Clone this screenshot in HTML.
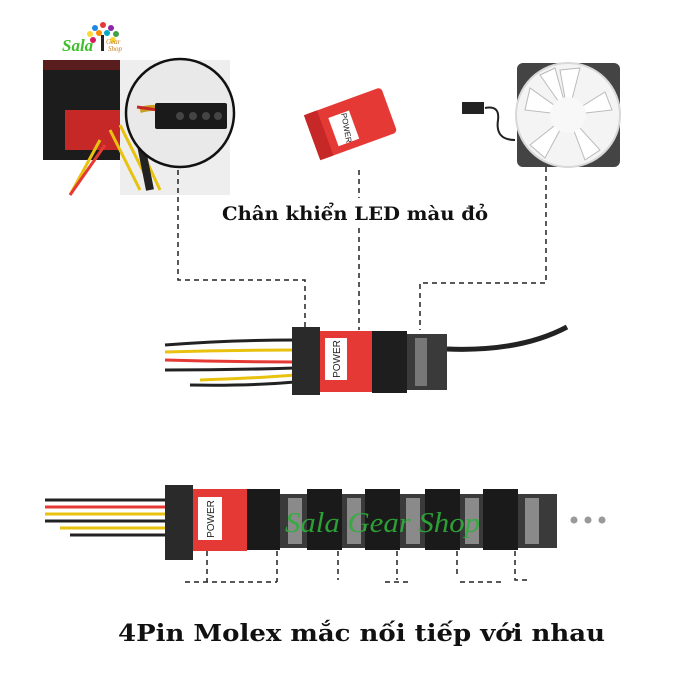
<!DOCTYPE html>
<html><head><meta charset="utf-8"><style>
html,body{margin:0;padding:0;background:#fff;}
svg{display:block;}
</style></head><body>
<svg width="689" height="689" viewBox="0 0 689 689" xmlns="http://www.w3.org/2000/svg">
<rect width="689" height="689" fill="#fff"/>
<!-- logo -->
<g>
<circle cx="103" cy="25" r="3" fill="#e53935"/><circle cx="95" cy="28" r="3" fill="#1e88e5"/><circle cx="111" cy="28" r="3" fill="#8e24aa"/>
<circle cx="90" cy="34" r="3" fill="#fdd835"/><circle cx="116" cy="34" r="3" fill="#43a047"/><circle cx="99" cy="33" r="3" fill="#fb8c00"/><circle cx="107" cy="33" r="3" fill="#00acc1"/>
<circle cx="93" cy="40" r="3" fill="#d81b60"/><circle cx="113" cy="40" r="3" fill="#fdd835"/>
<rect x="101" y="35" width="3" height="16" fill="#222"/>
<text x="62" y="51" font-family="Liberation Serif,serif" font-style="italic" font-weight="bold" font-size="17" fill="#3cbf2a">Sala</text>
<text x="106" y="44" font-family="Liberation Serif,serif" font-style="italic" font-size="7" fill="#c57b1a">Gear</text>
<text x="108" y="51" font-family="Liberation Serif,serif" font-style="italic" font-size="7" fill="#c57b1a">Shop</text>
</g>
<!-- PSU -->
<rect x="43" y="60" width="105" height="100" fill="#1c1c1c"/>
<rect x="43" y="60" width="105" height="10" fill="#5a1d1d"/>
<rect x="65" y="110" width="55" height="40" fill="#c62828"/>
<rect x="120" y="60" width="110" height="135" fill="#eee"/>
<path d="M110 130 L140 190 M120 125 L150 185 M130 125 L160 190 M100 140 L70 195" stroke="#e8c20f" stroke-width="3"/>
<path d="M105 145 L70 195" stroke="#e53935" stroke-width="3"/>
<path d="M140 140 L150 190" stroke="#222" stroke-width="8"/>
<circle cx="180" cy="113" r="54" fill="#e9e9e9" stroke="#111" stroke-width="2.5"/>
<path d="M140 110 Q160 105 160 112" stroke="#c8a020" stroke-width="6" fill="none"/>
<path d="M137 107 L158 110" stroke="#c62828" stroke-width="3"/>
<rect x="155" y="103" width="72" height="26" rx="2" fill="#1a1a1a"/>
<circle cx="180" cy="116" r="4" fill="#444"/><circle cx="193" cy="116" r="4" fill="#444"/><circle cx="206" cy="116" r="4" fill="#444"/><circle cx="218" cy="116" r="4" fill="#444"/>
<!-- red connector -->
<g transform="translate(350,125) rotate(-20)">
<rect x="-40" y="-25" width="82" height="48" rx="4" fill="#e53935"/>
<rect x="-40" y="-25" width="14" height="48" fill="#c62828"/>
<rect x="-18" y="-14" width="22" height="30" fill="#fff"/>
<text transform="translate(-7 1) rotate(100)" font-family="Liberation Sans,sans-serif" font-size="8" fill="#222" text-anchor="middle">POWER</text>
</g>
<!-- fan -->
<path d="M515 140 Q495 140 498 120 Q500 105 485 108" stroke="#222" stroke-width="2" fill="none"/>
<rect x="462" y="102" width="22" height="12" fill="#222"/>
<rect x="517" y="63" width="103" height="104" rx="6" fill="#444"/>
<circle cx="568" cy="115" r="52" fill="#f4f4f4" stroke="#d8d8d8" stroke-width="2"/>
<g stroke="#bbb" stroke-width="1" fill="#fff">
<path d="M568 115 L560 70 L580 68 Z"/><path d="M568 115 L605 92 L612 110 Z"/><path d="M568 115 L600 150 L585 160 Z"/>
<path d="M568 115 L545 158 L530 145 Z"/><path d="M568 115 L525 110 L530 88 Z"/><path d="M568 115 L540 75 L555 68 Z"/>
</g>
<circle cx="568" cy="115" r="18" fill="#f8f8f8"/>
<!-- dashed top -->
<g stroke="#222" stroke-width="1.5" stroke-dasharray="5,4" fill="none">
<path d="M178 170 V280 H305 V330"/>
<path d="M359 170 V198 M359 228 V330"/>
<path d="M546 167 V283 H420 V330"/>
</g>
<rect x="220" y="199" width="272" height="26" fill="#fff"/>
<text x="222" y="220" textLength="266" lengthAdjust="spacingAndGlyphs" font-family="DejaVu Serif,'Liberation Serif',serif" font-weight="bold" font-size="19" fill="#111">Chân khiển LED màu đỏ</text>
<!-- middle connector -->
<g fill="none" stroke-width="3">
<path d="M165 345 Q230 340 295 340" stroke="#222"/>
<path d="M165 352 Q230 350 295 350" stroke="#e8c20f"/>
<path d="M165 360 Q230 362 295 362" stroke="#e53935"/>
<path d="M165 370 Q230 370 295 368" stroke="#222"/>
<path d="M200 380 Q260 378 295 375" stroke="#e8c20f"/>
<path d="M190 385 Q250 386 295 382" stroke="#222"/>
<path d="M447 349 Q520 352 567 327" stroke="#222" stroke-width="5"/>
</g>
<rect x="292" y="327" width="28" height="68" fill="#2a2a2a"/>
<rect x="320" y="331" width="52" height="61" fill="#e53935"/>
<rect x="325" y="338" width="22" height="42" fill="#fff"/>
<text transform="translate(340 359) rotate(-90)" font-family="Liberation Sans,sans-serif" font-size="10" fill="#222" text-anchor="middle">POWER</text>
<rect x="372" y="331" width="35" height="62" fill="#1e1e1e"/>
<rect x="407" y="334" width="40" height="56" fill="#3a3a3a"/>
<rect x="415" y="338" width="12" height="48" fill="#777"/>
<!-- bottom chain -->
<g fill="none" stroke-width="3">
<path d="M45 500 H170" stroke="#222"/>
<path d="M45 507 H170" stroke="#e53935"/>
<path d="M45 514 H170" stroke="#e8c20f"/>
<path d="M45 521 H170" stroke="#222"/>
<path d="M60 528 H170" stroke="#e8c20f"/>
<path d="M70 535 H170" stroke="#222"/>
</g>
<rect x="165" y="485" width="28" height="75" fill="#2a2a2a"/>
<rect x="193" y="489" width="54" height="62" fill="#e53935"/>
<rect x="198" y="497" width="24" height="43" fill="#fff"/>
<text transform="translate(214 519) rotate(-90)" font-family="Liberation Sans,sans-serif" font-size="10" fill="#222" text-anchor="middle">POWER</text>
<rect x="247" y="494" width="310" height="54" fill="#3a3a3a"/>
<g fill="#8a8a8a">
<rect x="288" y="498" width="14" height="46"/><rect x="347" y="498" width="14" height="46"/><rect x="406" y="498" width="14" height="46"/><rect x="465" y="498" width="14" height="46"/><rect x="525" y="498" width="14" height="46"/>
</g>
<g fill="#1a1a1a">
<rect x="247" y="489" width="33" height="61"/><rect x="307" y="489" width="35" height="61"/><rect x="365" y="489" width="35" height="61"/><rect x="425" y="489" width="35" height="61"/><rect x="483" y="489" width="35" height="61"/>
</g>
<text x="285" y="532" textLength="195" lengthAdjust="spacingAndGlyphs" font-family="Liberation Serif,serif" font-style="italic" font-size="28" fill="#2fae3a" opacity="0.9">Sala Gear Shop</text>
<circle cx="574" cy="520" r="3.5" fill="#999"/><circle cx="588" cy="520" r="3.5" fill="#999"/><circle cx="602" cy="520" r="3.5" fill="#999"/>
<g stroke="#222" stroke-width="1.5" stroke-dasharray="5,4" fill="none">
<path d="M207 551 V582 M277 551 V582 M338 551 V580 M397 551 V580 M457 551 V574 M515 551 V580 H530"/>
<path d="M185 582 H277 M385 582 H410 M460 582 H505"/>
</g>
<text x="118" y="641" textLength="487" lengthAdjust="spacingAndGlyphs" font-family="DejaVu Serif,'Liberation Serif',serif" font-weight="bold" font-size="23" fill="#111">4Pin Molex mắc nối tiếp với nhau</text>
</svg>
</body></html>
